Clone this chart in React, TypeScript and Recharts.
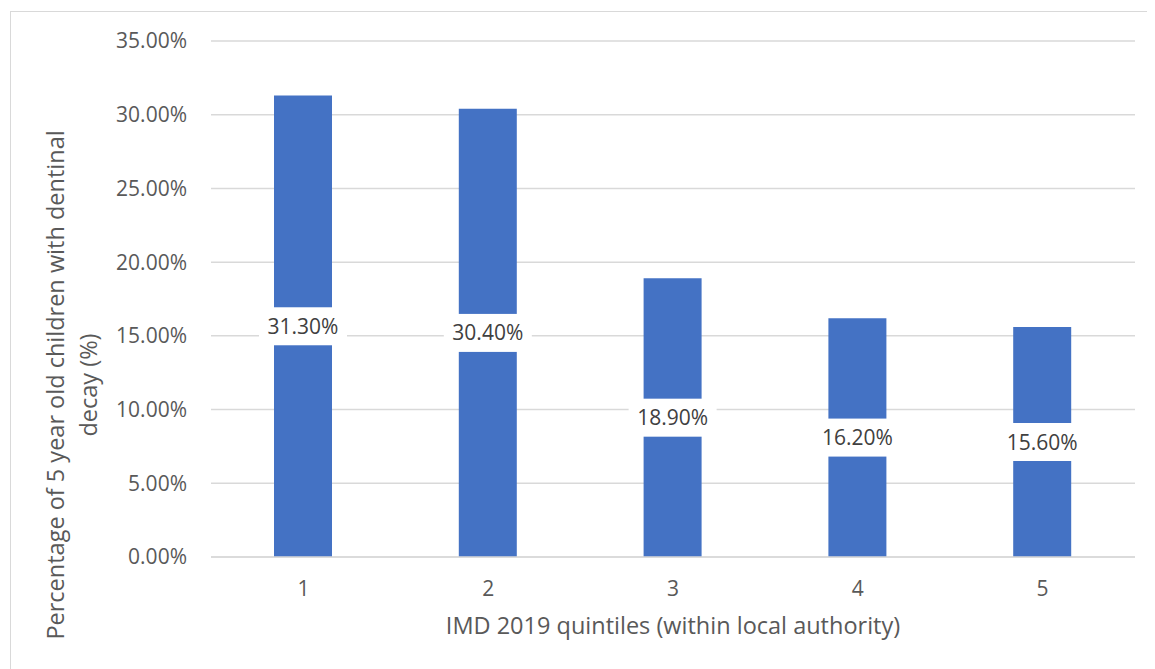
import { Bar, BarChart, CartesianGrid, Label, LabelList, XAxis, YAxis } from 'recharts'

const quintiles = ['1', '2', '3', '4', '5']
const decayShare = [0.313, 0.304, 0.189, 0.162, 0.156]
const yTicks = [0, 0.05, 0.1, 0.15, 0.2, 0.25, 0.3, 0.35]

const data = quintiles.map((q, i) => ({ quintile: q, share: decayShare[i] }))

const BAR_BLUE = '#4472c4'
const GRID = '#d9d9d9'
const INK = '#595959'
const LABEL_INK = '#404040'
const FONT = '"Open Sans", sans-serif'

const tick = { fill: INK, fontSize: 21, fontFamily: FONT }
const pct = (v: number) => `${(v * 100).toFixed(2)}%`

// white tag sitting in the middle of each bar
function ValueTag(props: any) {
  const { x, y, width, height, value } = props
  const cx = Number(x) + Number(width) / 2
  const cy = Number(y) + Number(height) / 2
  return (
    <g>
      <rect x={cx - 44} y={cy - 19} width={88} height={38} fill="#ffffff" />
      <text
        x={cx}
        y={cy}
        dy="0.36em"
        textAnchor="middle"
        fill={LABEL_INK}
        fontSize={21}
        fontFamily={FONT}
      >
        {pct(Number(value))}
      </text>
    </g>
  )
}

function YTitle(props: any) {
  const vb = props.viewBox || { x: 0, y: 41, width: 211, height: 516 }
  const cy = vb.y + vb.height / 2 + 86
  const lines = ['Percentage of 5 year old children with dentinal', 'decay (%)']
  return (
    <g>
      {lines.map((line, i) => {
        const cx = vb.x + 56 + i * 33
        return (
          <text
            key={i}
            x={cx}
            y={cy}
            dy="0.35em"
            textAnchor="middle"
            transform={`rotate(-90, ${cx}, ${cy})`}
            fill={INK}
            fontSize={23.5}
            fontFamily={FONT}
          >
            {line}
          </text>
        )
      })}
    </g>
  )
}

function XTitle(props: any) {
  const vb = props.viewBox || { x: 211, y: 557, width: 924, height: 112 }
  return (
    <text
      x={vb.x + vb.width / 2}
      y={vb.y + 77}
      textAnchor="middle"
      fill={INK}
      fontSize={23.5}
      fontFamily={FONT}
    >
      IMD 2019 quintiles (within local authority)
    </text>
  )
}

export default function App() {
  return (
    <div
      style={{
        position: 'relative',
        width: 1155,
        height: 669,
        margin: '-8px 0 0 -8px',
        overflow: 'hidden',
        background: '#ffffff',
      }}
    >
      <div
        style={{
          position: 'absolute',
          left: 10,
          top: 11,
          width: 1160,
          height: 680,
          border: `1px solid ${GRID}`,
        }}
      />
      <div style={{ position: 'absolute', left: 0, top: 0 }}>
        <BarChart
          width={1155}
          height={669}
          data={data}
          margin={{ top: 41, right: 20, bottom: 0, left: 0 }}
        >
          <CartesianGrid stroke={GRID} strokeWidth={1.5} vertical={false} />
          <XAxis
            dataKey="quintile"
            height={112}
            tick={tick}
            tickLine={false}
            tickSize={0}
            tickMargin={24}
            axisLine={{ stroke: GRID, strokeWidth: 1.5 }}
          >
            <Label content={XTitle} />
          </XAxis>
          <YAxis
            width={211}
            domain={[0, 0.35]}
            ticks={yTicks}
            tickFormatter={pct}
            tick={tick}
            tickLine={false}
            tickSize={0}
            tickMargin={24}
            axisLine={false}
          >
            <Label content={YTitle} />
          </YAxis>
          <Bar dataKey="share" fill={BAR_BLUE} barSize={58} isAnimationActive={false}>
            <LabelList dataKey="share" content={ValueTag} />
          </Bar>
        </BarChart>
      </div>
    </div>
  )
}
